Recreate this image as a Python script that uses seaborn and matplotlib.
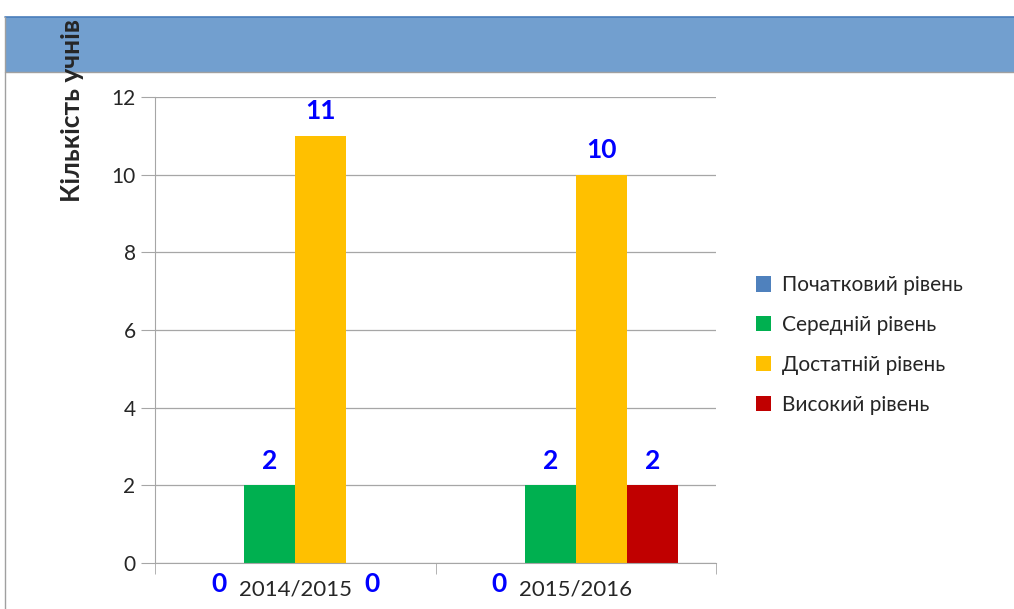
import matplotlib
matplotlib.use("Agg")
import matplotlib.pyplot as plt
import seaborn as sns
import pandas as pd
from matplotlib.patches import Rectangle, Patch
from matplotlib.lines import Line2D

years = ["2014/2015", "2015/2016"]
levels = ["Початковий рівень", "Середній рівень", "Достатній рівень", "Високий рівень"]
pochatkovyi = [0, 0]
serednii = [2, 2]
dostatnii = [11, 10]
vysokyi = [0, 2]
colors = ["#4f81bd", "#00b050", "#ffc000", "#c00000"]

rows = []
for lvl, vals in zip(levels, [pochatkovyi, serednii, dostatnii, vysokyi]):
    for y, v in zip(years, vals):
        rows.append({"year": y, "level": lvl, "count": v})
df = pd.DataFrame(rows)

sns.set_style("white")
plt.rcParams["font.family"] = ["Lato", "DejaVu Sans"]

fig = plt.figure(figsize=(10.14, 6.09), dpi=100)

# синя смуга зверху та рамка зліва
fig.patches.append(Rectangle((5 / 1014, 1 - 72 / 609), 1, 55 / 609, transform=fig.transFigure,
                             facecolor="#729fcf", edgecolor="none", zorder=0))
fig.add_artist(Line2D([5 / 1014, 1], [1 - 17 / 609] * 2, transform=fig.transFigure,
                      color="#4a7ebb", lw=1.2))
fig.add_artist(Line2D([5 / 1014, 1], [1 - 72 / 609] * 2, transform=fig.transFigure,
                      color="#a0a0a0", lw=1))
fig.add_artist(Line2D([5 / 1014] * 2, [0, 1 - 17 / 609], transform=fig.transFigure,
                      color="#a0a0a0", lw=1))

ax = fig.add_axes([155 / 1014, 1 - 563 / 609, 561 / 1014, 466 / 609])
sns.barplot(data=df, x="year", y="count", hue="level", hue_order=levels, order=years,
            palette=colors, width=0.727, gap=0, saturation=1, ax=ax, legend=False,
            errorbar=None, edgecolor="none", linewidth=0)

ax.set_ylim(0, 12)
ax.set_xlim(-0.5, 1.5)
ax.set_yticks(range(0, 13, 2))
ax.yaxis.grid(True, color="#a6a6a6", lw=0.9)
ax.set_axisbelow(True)
for s in ["top", "right"]:
    ax.spines[s].set_visible(False)
for s in ["left", "bottom"]:
    ax.spines[s].set_color("#a6a6a6")
ax.tick_params(axis="y", length=10, color="#a6a6a6", labelsize=15, pad=4, left=True)
ax.set_xticks([-0.5, 0.5, 1.5], minor=True)
ax.tick_params(axis="x", which="minor", length=8, color="#a6a6a6", bottom=True)
ax.tick_params(axis="x", which="major", length=0, labelsize=16, pad=12)
ax.set_xlabel("")
ax.set_ylabel("")

# підписи значень
for cont in ax.containers:
    for bar in cont:
        h = bar.get_height()
        cx = bar.get_x() + bar.get_width() / 2
        if h > 0:
            ax.text(cx, h + 0.33, f"{h:g}", ha="center", va="bottom", color="#0000ff",
                    fontsize=19, fontweight="bold")
        else:
            ax.text(cx, -0.22, "0", ha="center", va="top", color="#0000ff",
                    fontsize=19, fontweight="bold", clip_on=False)

fig.text(72 / 1014, 1 - 110 / 609, "Кількість учнів", rotation=90, ha="center", va="center",
         fontsize=19, fontweight="bold")

handles = [Patch(facecolor=c, edgecolor="none") for c in colors]
fig.legend(handles, levels, loc="center left", bbox_to_anchor=(737 / 1014, 1 - 345 / 609),
           frameon=False, fontsize=15, handlelength=0.75, handleheight=0.75,
           handletextpad=0.5, labelspacing=0.95)

fig.savefig("out.png", dpi=100)
